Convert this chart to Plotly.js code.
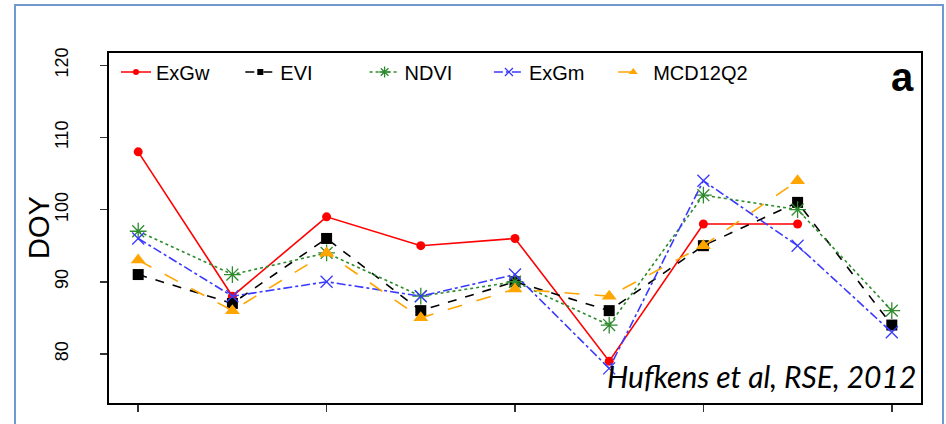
<!DOCTYPE html>
<html>
<head>
<meta charset="utf-8">
<script src="https://cdn.plot.ly/plotly-3.0.1.min.js"></script>
<style>
  html, body { margin: 0; padding: 0; background: #ffffff; }
  #chart { width: 946px; height: 424px; }
</style>
</head>
<body>
<div id="chart"></div>
<script>
// Sites / years along the x axis (numbered positions)
const xPos = [1, 2, 3, 4, 5, 6, 7, 8, 9];
const xTicks = [1, 3, 5, 7, 9];
const yTicks = [80, 90, 100, 110, 120];

// Spring green-up day of year per method
const exgw    = [108, 88, 99, 95, 96, 79, 98, 98, null];
const evi     = [91, 87, 96, 86, 90, 86, 95, 101, 84];
const ndvi    = [97, 91, 94, 88, 90, 84, 102, 100, 86];
const exgm    = [96, 88, 90, 88, 91, 78, 104, 95, 83];
const mcd12q2 = [93, 86, 94, 85, 89, 88, 95, 104, null];

const seriesNames = ['ExGw', 'EVI', 'NDVI', 'ExGm', 'MCD12Q2'];
const seriesData = [exgw, evi, ndvi, exgm, mcd12q2];

const styles = [
  { color: '#ff0000', dash: 'solid',    symbol: 'circle',        size: 9,  legSize: 6, open: false },
  { color: '#000000', dash: 'dash',     symbol: 'square',        size: 11, legSize: 6, open: false },
  { color: '#2e8b2e', dash: 'dot',      symbol: 'asterisk-open', size: 14, legSize: 9, open: true },
  { color: '#3a3aff', dash: 'dashdot',  symbol: 'x-thin-open',   size: 12, legSize: 8, open: true },
  { color: '#ffa500', dash: 'longdash', symbol: 'triangle-up',   size: 13, legSize: 8, open: false }
];

function markerFor(s, size) {
  if (s.open) {
    return { symbol: s.symbol, size: size, color: s.color, line: { color: s.color, width: 1.3 } };
  }
  return { symbol: s.symbol, size: size, color: s.color, line: { width: 0 } };
}

const traces = [];
seriesData.forEach((vals, i) => {
  const s = styles[i];
  traces.push({
    type: 'scatter', mode: 'lines+markers',
    x: xPos, y: vals, name: seriesNames[i], showlegend: false,
    connectgaps: false,
    line: { color: s.color, width: 1.6, dash: s.dash },
    marker: markerFor(s, s.size),
    hoverinfo: 'x+y+name'
  });
});
// Legend entries with compact symbols
seriesData.forEach((vals, i) => {
  const s = styles[i];
  traces.push({
    type: 'scatter', mode: 'lines+markers',
    x: [null], y: [null], name: seriesNames[i], showlegend: true,
    legendwidth: i === seriesData.length - 1 ? 110 : 79.3,
    line: { color: s.color, width: 1.6, dash: s.dash },
    marker: markerFor(s, s.legSize),
    hoverinfo: 'skip'
  });
});

const mL = 109, mR = 25, mT = 53, mB = 21;
const W = 946, H = 424;
const pw = W - mL - mR, ph = H - mT - mB;
const px = v => (v - mL) / pw;
const py = v => (H - mB - v) / ph;

const layout = {
  width: W, height: H,
  margin: { l: mL, r: mR, t: mT, b: mB, pad: 0 },
  paper_bgcolor: '#ffffff', plot_bgcolor: '#ffffff',
  font: { family: "'Liberation Sans', Arial, sans-serif", color: '#000000' },
  showlegend: true,
  legend: {
    orientation: 'h', x: px(116), xanchor: 'left', y: py(72), yanchor: 'middle',
    bgcolor: 'rgba(0,0,0,0)', borderwidth: 0,
    font: { size: 20, color: '#000000' },
    entrywidthmode: 'pixels',
    traceorder: 'normal'
  },
  xaxis: {
    range: [0.69, 9.31], showgrid: false, zeroline: false,
    showline: true, linecolor: '#000000', linewidth: 2, mirror: true,
    ticks: 'outside', tickvals: xTicks, ticklen: 7, tickwidth: 1.5, tickcolor: '#333333',
    showticklabels: false, fixedrange: true
  },
  yaxis: {
    range: [73.2, 121.7], showgrid: false, zeroline: false,
    showline: true, linecolor: '#000000', linewidth: 2, mirror: true,
    ticks: 'outside', tickvals: yTicks, ticktext: yTicks.map(String), ticklen: 7, tickwidth: 1.5, tickcolor: '#333333',
    tickangle: -90, tickfont: { size: 18, color: '#000000' }, ticklabelstandoff: 25,
    fixedrange: true
  },
  shapes: [
    {
      type: 'rect', xref: 'paper', yref: 'paper',
      x0: px(15), x1: px(943), y0: py(440), y1: py(5),
      line: { color: '#7099d0', width: 2 }, fillcolor: 'rgba(0,0,0,0)', layer: 'below'
    }
  ],
  annotations: [
    {
      // y-axis title
      text: 'DOY', xref: 'paper', yref: 'paper', textangle: -90,
      x: px(39), y: py(228), xanchor: 'center', yanchor: 'middle',
      showarrow: false, font: { size: 29, color: '#000000', family: "'Liberation Sans', Arial, sans-serif" }
    },
    {
      text: '<b>a</b>', xref: 'paper', yref: 'paper',
      x: px(902), y: py(77), xanchor: 'center', yanchor: 'middle',
      showarrow: false, font: { size: 40, color: '#000000', family: "'Liberation Sans', Arial, sans-serif" }
    },
    {
      text: 'Hufkens et al, RSE, 2012', xref: 'paper', yref: 'paper',
      x: px(918), y: py(376), xanchor: 'right', yanchor: 'middle',
      showarrow: false,
      font: { size: 30, color: '#000000', family: "Lato, 'Open Sans', sans-serif", style: 'italic' }
    }
  ]
};

Plotly.newPlot('chart', traces, layout, { staticPlot: true, displayModeBar: false });
</script>
</body>
</html>
